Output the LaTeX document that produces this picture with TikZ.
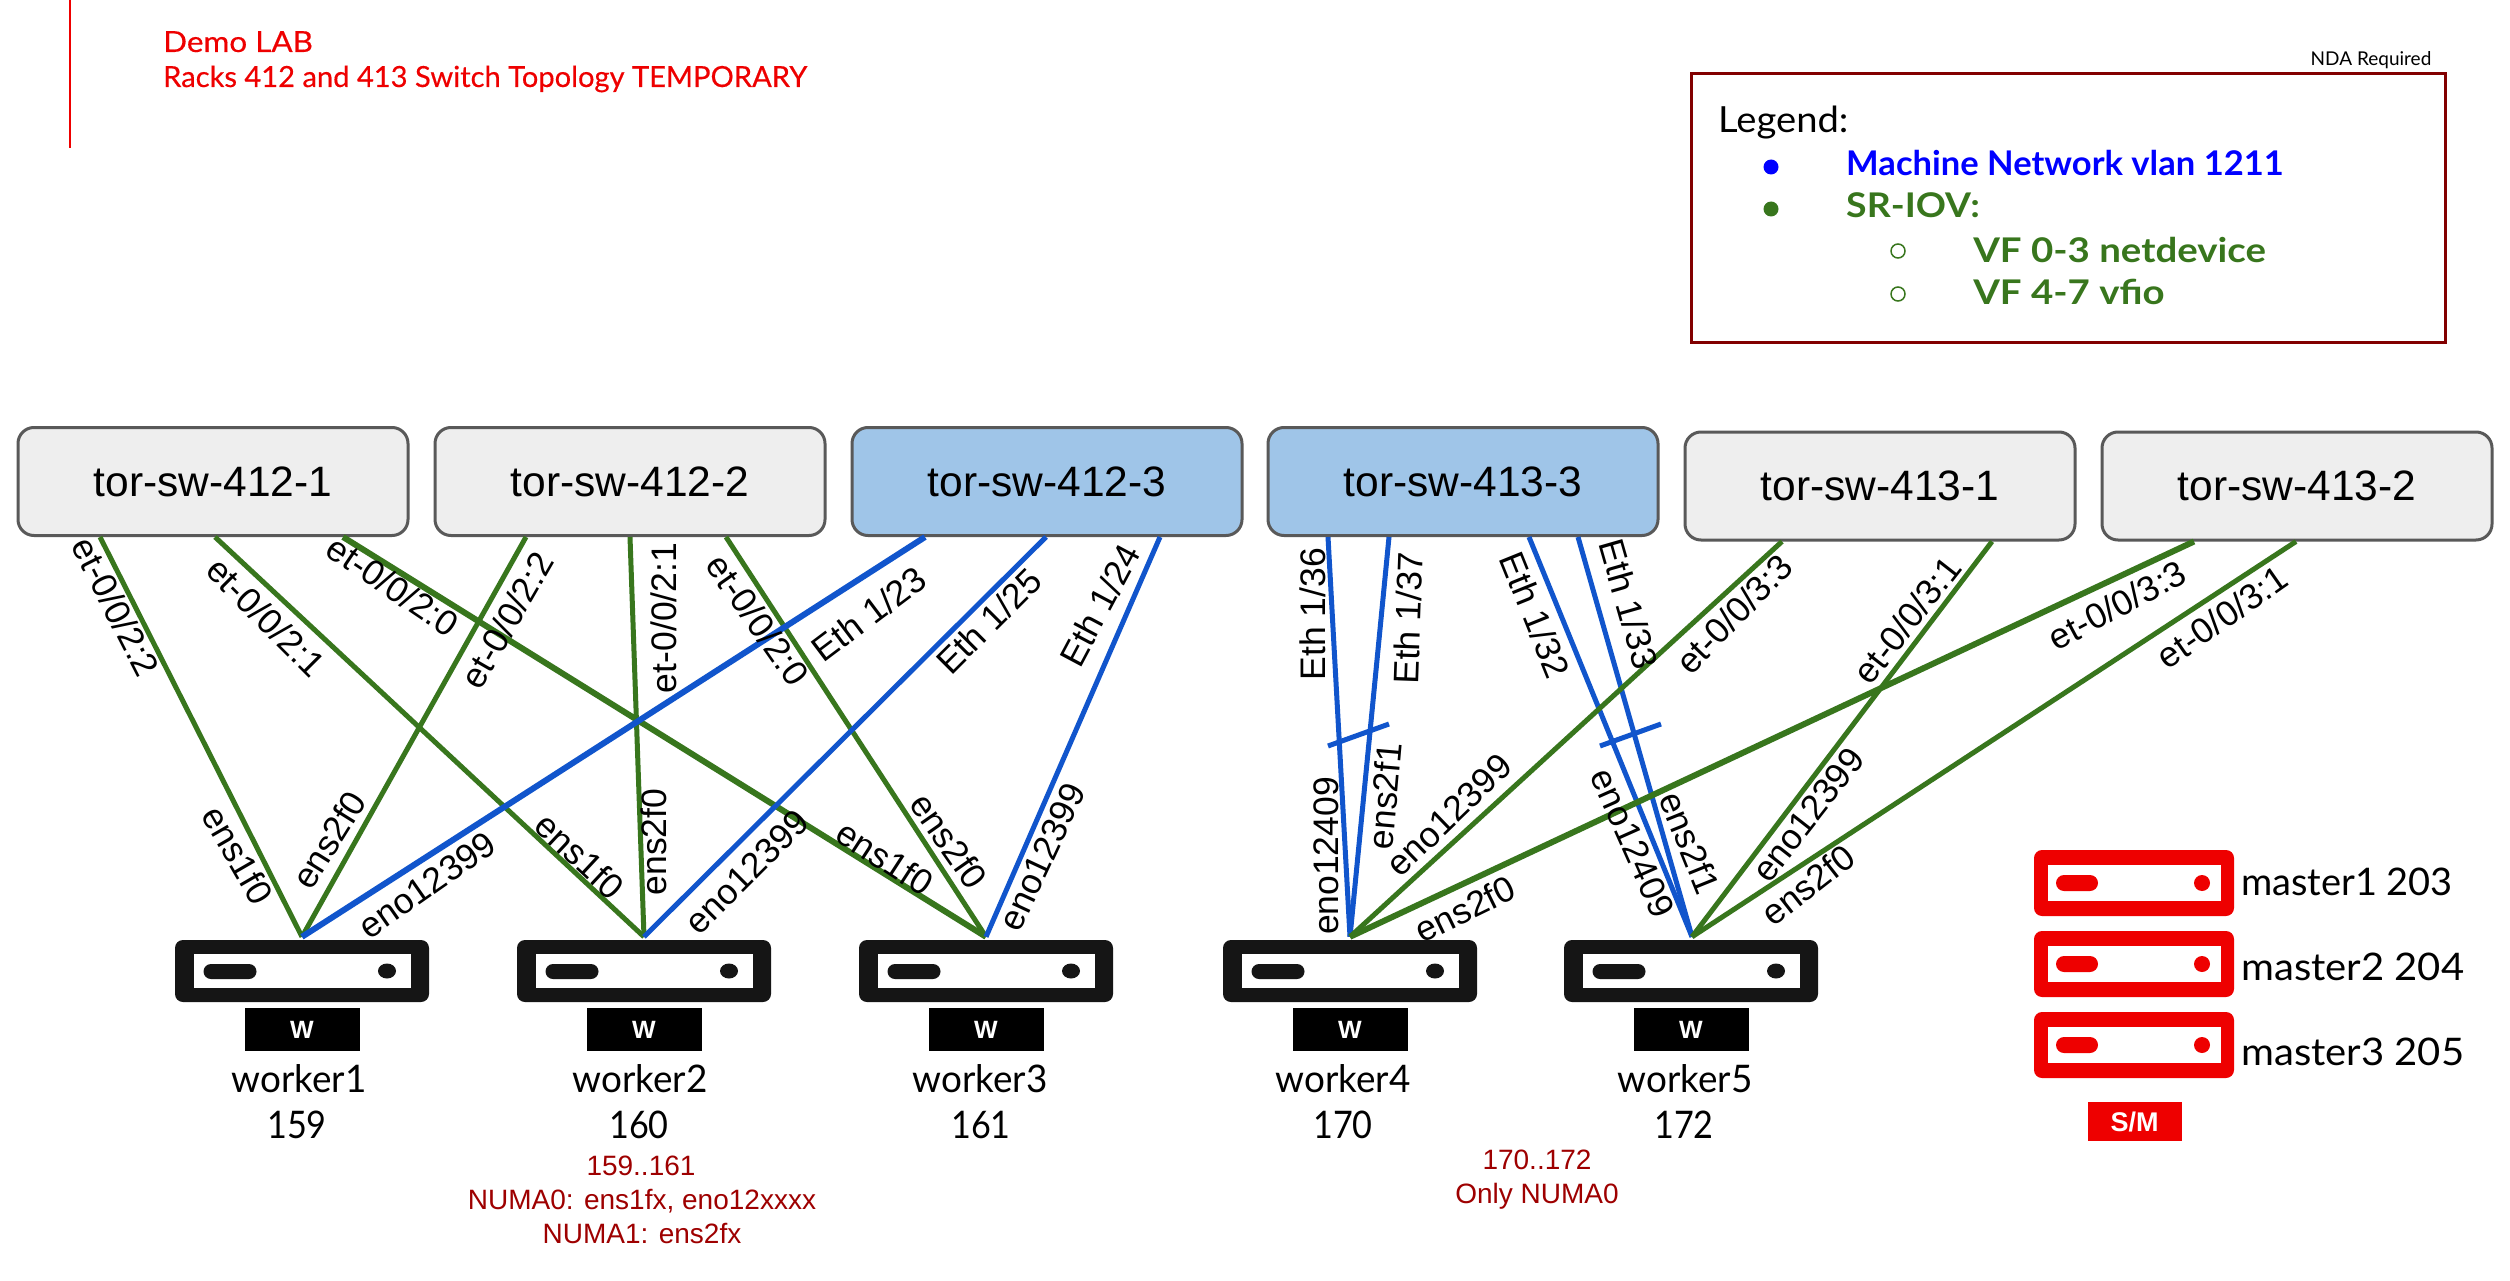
\documentclass[tikz,border=0pt]{standalone}
\usepackage{fontspec}
\setmainfont{Liberation Sans}
\newfontfamily\rh{Lato}
\newfontfamily\rhm[FakeBold=0.35]{Lato}
\newcommand{\fsz}[1]{\fontsize{#1}{#1}\selectfont}
\newcommand{\swt}[1]{\raisebox{-1.5pt}{#1}}
\definecolor{gr}{HTML}{38761D}
\definecolor{bl}{HTML}{1155CC}
\definecolor{rd}{HTML}{EE0000}
\definecolor{nt}{HTML}{9E0000}
\definecolor{lg}{HTML}{820000}
\definecolor{ic}{HTML}{151515}
\definecolor{sky}{HTML}{9FC5E8}
\definecolor{pale}{HTML}{EEEEEE}
\definecolor{puredblue}{HTML}{0000FF}
\tikzset{
  sw/.style={draw=black!65,line width=3pt,rounded corners=16pt,fill=#1,minimum width=390pt,minimum height=108pt,inner sep=0pt,font=\fsz{42.5}},
  gl/.style={draw=gr,line width=#1},
  gl/.default=5pt,
  bll/.style={draw=bl,line width=#1},
  bll/.default=5pt,
  lab/.style={inner sep=0pt,font=\fsz{35.5},rotate=#1},
  txt/.style={inner sep=0pt,font=\rh\fsz{38},anchor=base,xscale=.97},
  num/.style={inner sep=0pt,font=\rh\fsz{38},anchor=base,xscale=.9},
  note/.style={inner sep=0pt,font=\fsz{28},text=nt,anchor=base},
  ttl/.style={inner sep=0pt,font=\rhm\fsz{29.1},text=rd,anchor=base west},
  lgb/.style={inner sep=0pt,font=\rh\bfseries\fsz{34},anchor=base west},
  tag/.style={inner sep=0pt,fill=#1,text=white,font=\bfseries\fsz{25}},
}
\begin{document}
\begin{tikzpicture}[x=1pt,y=-1pt]
\useasboundingbox (0,0) rectangle (2510,1281);
\fill[white] (0,0) rectangle (2510,1281);
% title
\coordinate (rt) at (70,0);
\coordinate (rb) at (70,148);
\draw[rd,line width=2.5pt] (rt) -- (rb);
\node[ttl,xscale=1.08] (t1) at (163,52) {Demo LAB};
\node[ttl] (t2) at (163,87) {Racks 412 and 413 Switch Topology TEMPORARY};
% legend
\node[inner sep=0pt,font=\rh\fsz{19},anchor=base] (nda) at (2371,66) {NDA Required};
\node[draw=lg,line width=3pt,inner sep=0pt,minimum width=754pt,minimum height=268pt] (lgd) at (2068,208) {};
\node[lgb,font=\rh\fsz{36},xscale=1.06] (lg0) at (1718,133) {Legend:};
\node[lgb,text=puredblue,xscale=1.016] (lg1) at (1846,176) {Machine Network vlan 1211};
\node[lgb,text=gr,xscale=1.1] (lg2) at (1846,218) {SR-IOV:};
\node[lgb,text=gr,xscale=1.13] (lg3) at (1973,262) {VF 0-3 netdevice};
\node[lgb,text=gr,xscale=1.13] (lg4) at (1973,304) {VF 4-7 vfio};
\fill[puredblue] (1771,167) circle[radius=7.5pt];
\fill[gr] (1771,209) circle[radius=7.5pt];
\draw[gr,line width=1.5pt] (1898,251) circle[radius=7pt];
\draw[gr,line width=1.5pt] (1898,294) circle[radius=7pt];
% switches
\node[sw=pale] (a1) at (213,481.5) {\swt{tor-sw-412-1}};
\node[sw=pale] (a2) at (630,481.5) {\swt{tor-sw-412-2}};
\node[sw=sky] (a3) at (1047,481.5) {\swt{tor-sw-412-3}};
\node[sw=sky] (b3) at (1463,481.5) {\swt{tor-sw-413-3}};
\node[sw=pale] (b1) at (1880,486) {\swt{tor-sw-413-1}};
\node[sw=pale] (b2) at (2297,486) {\swt{tor-sw-413-2}};
% workers
\foreach \n/\cx in {1/302,2/644,3/986,4/1350,5/1691}{
  \begin{scope}[shift={(\cx,0)}]
    \node[fill=ic,rounded corners=8pt,inner sep=0pt,minimum width=254pt,minimum height=62pt] (w\n) at (0,971) {};
    \node[fill=white,inner sep=0pt,minimum width=217pt,minimum height=34pt] (wi\n) at (0,971) {};
    \node[fill=ic,rounded corners=7.5pt,inner sep=0pt,minimum width=53pt,minimum height=15pt] (wp\n) at (-72,971.5) {};
    \fill[ic] (85,971) ellipse[x radius=9pt,y radius=7.5pt];
    \node[tag=black,minimum width=115pt,minimum height=43pt] (wt\n) at (0,1029.5) {W};
  \end{scope}
}
% connectors 412
\draw[gl] ([xshift=-113pt]a1.south) -- ([yshift=3pt]w1.north);
\draw[gl] ([xshift=2pt]a1.south) -- ([yshift=3pt]w2.north);
\draw[gl=6pt] ([xshift=130pt]a1.south) -- ([yshift=3pt]w3.north);
\draw[gl] ([xshift=-104pt]a2.south) -- ([yshift=3pt]w1.north);
\draw[gl] (a2.south) -- ([yshift=3pt]w2.north);
\draw[gl] ([xshift=96pt]a2.south) -- ([yshift=3pt]w3.north);
\draw[bll=6pt] ([xshift=-122pt]a3.south) -- ([yshift=3pt]w1.north);
\draw[bll] ([xshift=-1pt]a3.south) -- ([yshift=3pt]w2.north);
\draw[bll] ([xshift=113pt]a3.south) -- ([yshift=3pt]w3.north);
% connectors 413
\draw[bll] ([xshift=-135pt]b3.south) -- ([yshift=3pt]w4.north);
\draw[bll] ([xshift=-74pt]b3.south) -- ([yshift=3pt]w4.north);
\draw[bll] ([xshift=66pt]b3.south) -- ([yshift=3pt,xshift=1pt]w5.north);
\draw[bll] ([xshift=115pt]b3.south) -- ([yshift=3pt,xshift=1pt]w5.north);
\draw[gl] ([xshift=-98pt]b1.south) -- ([yshift=3pt]w4.north);
\draw[gl] ([xshift=112pt]b1.south) -- ([yshift=3pt,xshift=1pt]w5.north);
\draw[gl=6pt] ([xshift=-103pt]b2.south) -- ([yshift=3pt]w4.north);
\draw[gl] ([xshift=-1pt]b2.south) -- ([yshift=3pt,xshift=1pt]w5.north);
% ticks
\coordinate (k1a) at (1328,746);
\coordinate (k1b) at (1389,724);
\coordinate (k2a) at (1600,746);
\coordinate (k2b) at (1661,724);
\draw[bll] (k1a) -- (k1b);
\draw[bll] (k2a) -- (k2b);
% labels upper
\node[lab=-63] (l1) at (116,607) {et-0/0/2:2};
\node[lab=-45] (l2) at (266,617) {et-0/0/2:1};
\node[lab=-34] (l3) at (393,586) {et-0/0/2:0};
\node[lab=60] (l4) at (507,620) {et-0/0/2:2};
\node[lab=90] (l5) at (664,618) {et-0/0/2:1};
\node[lab=-55] (l6) at (758,620) {et-0/0/2:0};
\node[lab=37] (l7) at (869,614) {Eth 1/23};
\node[lab=45] (l8) at (989,621) {Eth 1/25};
\node[lab=62] (l9) at (1100,605) {Eth 1/24};
\node[lab=-60] (l10) at (238,855) {ens1f0};
\node[lab=58] (l11) at (329,840) {ens2f0};
\node[lab=35] (l12) at (427,885) {eno12399};
\node[lab=-43] (l13) at (580,856) {ens1f0};
\node[lab=90] (l14) at (654,842) {ens2f0};
\node[lab=45] (l15) at (747,872) {eno12399};
\node[lab=-33] (l16) at (885,858) {ens1f0};
\node[lab=-55] (l17) at (949,841) {ens2f0};
\node[lab=65] (l18) at (1042,857) {eno12399};
\node[lab=90] (l19) at (1313,614) {Eth 1/36};
\node[lab=88] (l20) at (1408,618) {Eth 1/37};
\node[lab=-68] (l21) at (1535,615) {Eth 1/32};
\node[lab=-74] (l22) at (1629,604) {Eth 1/33};
\node[lab=46] (l23) at (1734,614) {et-0/0/3:3};
\node[lab=52] (l24) at (1907,620) {et-0/0/3:1};
\node[lab=28] (l25) at (2117,605) {et-0/0/3:3};
\node[lab=35] (l26) at (2222,617) {et-0/0/3:1};
\node[lab=90] (l27) at (1326,856) {eno12409};
\node[lab=85] (l28) at (1385,796) {ens2f1};
\node[lab=44] (l29) at (1449,815) {eno12399};
\node[lab=26] (l30) at (1465,909) {ens2f0};
\node[lab=-66] (l31) at (1633,843) {eno12409};
\node[lab=-68] (l32) at (1690,843) {ens2f1};
\node[lab=52] (l33) at (1808,815) {eno12399};
\node[lab=38] (l34) at (1808,885) {ens2f0};
% worker names
\node[txt] (n1) at (299,1092) {worker1};
\node[num] (i1) at (297,1138) {159};
\node[txt] (n2) at (640,1092) {worker2};
\node[num] (i2) at (639,1138) {160};
\node[txt] (n3) at (980,1092) {worker3};
\node[num] (i3) at (981,1138) {161};
\node[txt] (n4) at (1343,1092) {worker4};
\node[num] (i4) at (1343,1138) {170};
\node[txt] (n5) at (1685,1092) {worker5};
\node[num] (i5) at (1684,1138) {172};
% notes
\node[note] (c1) at (641,1175) {159..161};
\node[note] (c2) at (642,1209) {NUMA0: ens1fx, eno12xxxx};
\node[note] (c3) at (642,1243) {NUMA1: ens2fx};
\node[note] (d1) at (1537,1169) {170..172};
\node[note] (d2) at (1537,1203) {Only NUMA0};
% masters
\foreach \n/\cy/\bl/\lb/\xs in {1/883/895/master1 203/1.03,2/964/980/master2 204/1.085,3/1045/1065/master3 205/1.085}{
  \node[fill=rd,rounded corners=8pt,inner sep=0pt,minimum width=200pt,minimum height=66pt] (m\n) at (2134,\cy) {};
  \node[fill=white,inner sep=0pt,minimum width=173pt,minimum height=36pt] (mi\n) at (2134,\cy) {};
  \node[fill=rd,rounded corners=8pt,inner sep=0pt,minimum width=42pt,minimum height=16pt] (mp\n) at (2077,\cy) {};
  \fill[rd] (2202,\cy) ellipse[x radius=8pt,y radius=8pt];
  \node[txt,anchor=base west,xscale=\xs] (ml\n) at (2241,\bl) {\lb};
}
\node[tag=rd,minimum width=94pt,minimum height=39pt,font=\bfseries\fsz{27}] (sm) at (2134.5,1121.5) {S/M};
\end{tikzpicture}
\end{document}
